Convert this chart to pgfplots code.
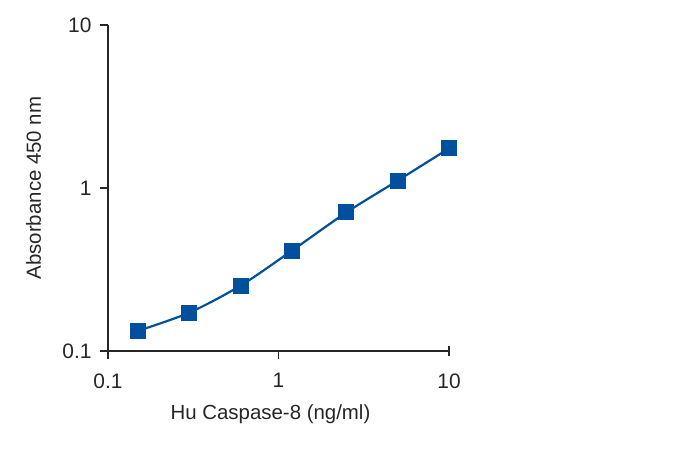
\documentclass[border=0pt]{standalone}
\usepackage{fontspec}
\setmainfont{Liberation Sans}
\usepackage{pgfplots}
\pgfplotsset{compat=1.18}
\definecolor{cblue}{RGB}{0,80,158}
\begin{document}
\begin{tikzpicture}
\useasboundingbox (0bp,0bp) rectangle (700bp,449bp);
\begin{axis}[
  at={(108bp,98bp)}, anchor=south west, scale only axis,
  width=341bp, height=326bp,
  xmode=log, ymode=log,
  xmin=0.1, xmax=10, ymin=0.1, ymax=10,
  axis x line*=bottom, axis y line*=left,
  axis line style={line width=1.2bp, black!85, -},
  every tick/.style={line width=1.2bp, black!85},
  tick align=outside, major tick length=8bp,
  xminorticks=false, yminorticks=false,
  xtick={0.1,1}, xticklabels={0.1,1},
  extra x ticks={10}, extra x tick labels={10},
  extra x tick style={tick align=center, major tick length=10bp, xticklabel style={yshift=-3bp}},
  ytick={0.1,1,10}, yticklabels={0.1,1,10},
  tick label style={font=\fontsize{21}{24}\selectfont, text=black!85},
  xticklabel style={yshift=-11bp},
  yticklabel style={xshift=-5bp},
  label style={font=\fontsize{20.5}{24}\selectfont, text=black!85},
  xlabel={Hu Caspase-8 (ng/ml)},
  xlabel style={at={(axis description cs:0.4765,-0.165)}, anchor=north, inner sep=0pt},
  ylabel={Absorbance 450 nm},
  ylabel style={at={(axis description cs:-0.197,0.5)}, anchor=base, inner sep=0pt},
  clip=false,
]
\addplot[color=cblue, line width=2.2bp, smooth, mark=square*, mark size=7.5bp,
  mark options={fill=cblue, draw=cblue, line width=0pt}]
  coordinates {
  (0.15,0.133) (0.3,0.172) (0.6,0.252) (1.2,0.413) (2.5,0.708) (5,1.11) (10,1.75)
  };
\end{axis}
\end{tikzpicture}
\end{document}
